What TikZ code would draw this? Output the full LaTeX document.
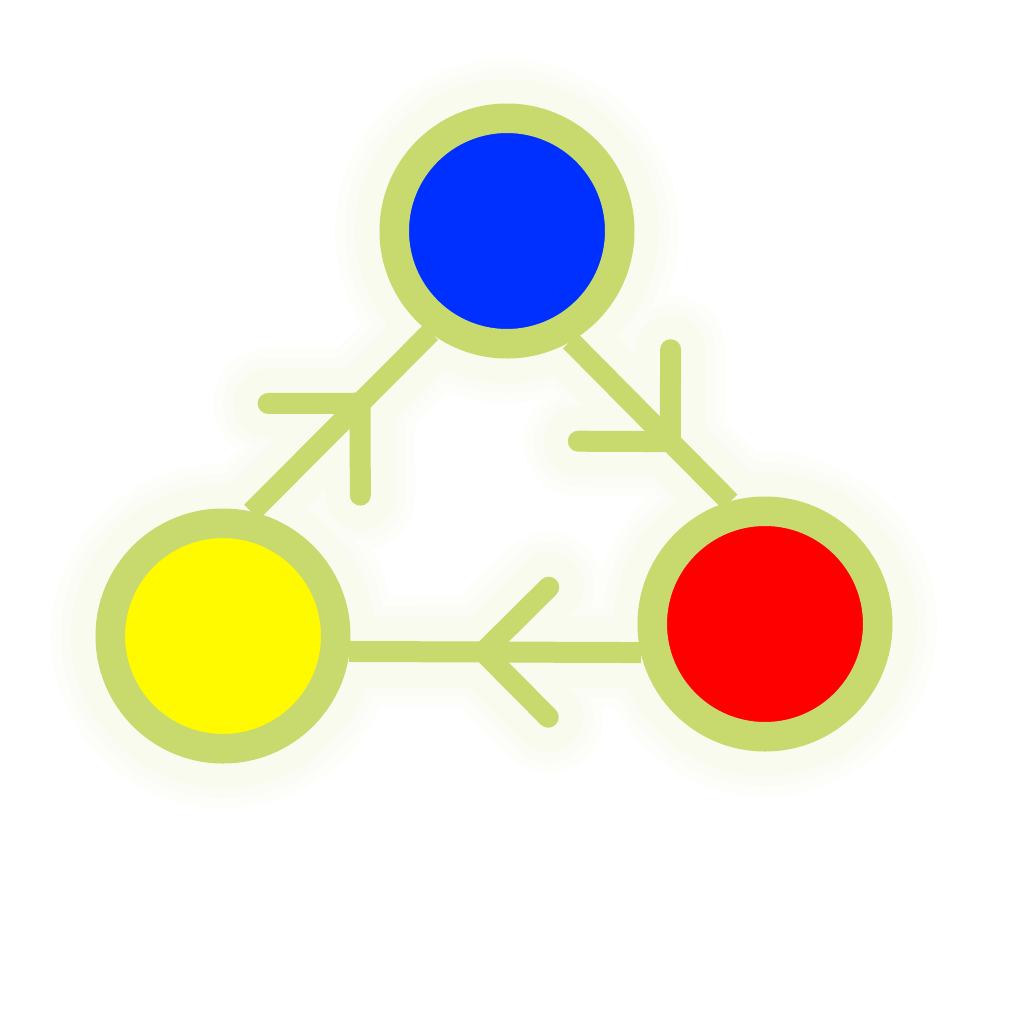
\documentclass[tikz,border=0pt]{standalone}
\usepackage{tikz}
\usetikzlibrary{backgrounds,decorations.markings}
\definecolor{ringgreen}{RGB}{200,217,110}
\definecolor{nodeblue}{RGB}{0,48,255}
\definecolor{nodered}{RGB}{255,0,0}
\definecolor{nodeyellow}{RGB}{255,250,0}

\begin{document}
\begin{tikzpicture}[
    dot/.style ={circle, draw=ringgreen, line width=0.29cm, minimum size=2.25cm, inner sep=0pt},
    chev/.style={postaction={decorate, decoration={markings,
                 mark=at position #1 with {\draw[line cap=round, line join=round] (-0.65,0.65) -- (0,0) -- (-0.65,-0.65);}}}}]
    \useasboundingbox (0,0) rectangle (10.24,-10.24);
    \node[dot, fill=nodeblue]   (b) at (5.07,-2.31) {};
    \node[dot, fill=nodeyellow] (y) at (2.23,-6.36) {};
    \node[dot, fill=nodered]    (r) at (7.65,-6.24) {};
    \begin{scope}[on background layer, line cap=round, line join=round]
      % glow layers, then the connectors themselves
      \foreach \w/\c in {1.1/ringgreen!4, 0.9/ringgreen!7, 0.7/ringgreen!11, 0.21/ringgreen}{
        \begin{scope}[color=\c, line width=\w cm]
          \fill (b) circle[radius=1.17+\w/2] (y) circle[radius=1.17+\w/2] (r) circle[radius=1.17+\w/2];
          \draw[chev=0.607] (y.77) -- (b.233);
          \draw[chev=0.626] (b.300) -- (r.106);
          \draw[chev=0.54]  (r.193) -- (y.353);
        \end{scope}
      }
    \end{scope}
\end{tikzpicture}
\end{document}
